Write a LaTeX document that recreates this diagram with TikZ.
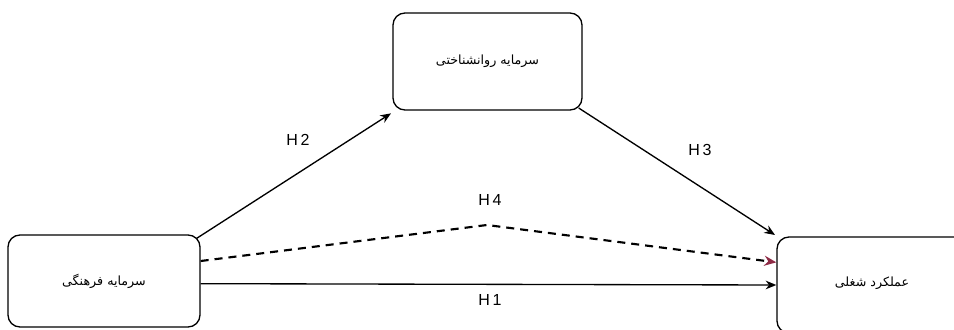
\documentclass[tikz,border=0pt]{standalone}
\usepackage{fontspec}
\setmainfont{Liberation Sans}
\newfontfamily\arabicfont[Script=Arabic]{DejaVu Sans}
\TeXXeTstate=1
\usetikzlibrary{arrows.meta}
\definecolor{tipred}{HTML}{8E2A45}
\tikzset{
  box/.style={draw, line width=1pt, rounded corners=9pt, inner sep=0pt, font=\arabicfont\fontsize{9.5}{11}\selectfont},
  conn/.style={line width=1pt, -{Stealth[length=8pt,width=6.5pt]}},
  dconn/.style={line width=1.6pt, dash pattern=on 6pt off 4.5pt, -{Stealth[length=9pt,width=7.5pt,color=tipred]}},
  hlab/.style={font=\fontsize{12}{14}\selectfont}
}
\begin{document}
\begin{tikzpicture}[x=0.75pt,y=-0.75pt]
\useasboundingbox[fill=white] (0,0) rectangle (954,329);
\node[box, minimum width=192*0.75pt, minimum height=92*0.75pt] (lb) at (104,281) {\beginR سرمایه فرهنگی\endR};
\node[box, minimum width=189*0.75pt, minimum height=97*0.75pt] (tb) at (487.5,61.5) {\beginR سرمایه روانشناختی\endR};
\node[box, minimum width=220*0.75pt, minimum height=96*0.75pt] (rb) at (887,285) {};
\node[font=\arabicfont\fontsize{9.5}{11}\selectfont] (rbt) at (872,283) {\beginR عملکرد شغلی\endR};
\coordinate (bend) at (487,225);
\draw[conn] ([shift={(-3pt,-3pt)}]lb.north east) -- ([shift={(-1pt,-2pt)}]tb.south west);
\draw[conn] ([shift={(-3pt,2pt)}]tb.south east) -- ([shift={(-1pt,1pt)}]rb.north west);
\draw[conn] ([yshift=-2pt]lb.east) -- ([yshift=0pt]rb.west);
\draw[dconn] ([yshift=15pt]lb.east) -- (bend) -- ([yshift=17pt]rb.west);
\node[hlab] (h2) at (298,140) {H\,2};
\node[hlab] (h3) at (700,150) {H\,3};
\node[hlab] (h4) at (490,200) {H\,4};
\node[hlab] (h1) at (490,300) {H\,1};
\end{tikzpicture}
\end{document}
